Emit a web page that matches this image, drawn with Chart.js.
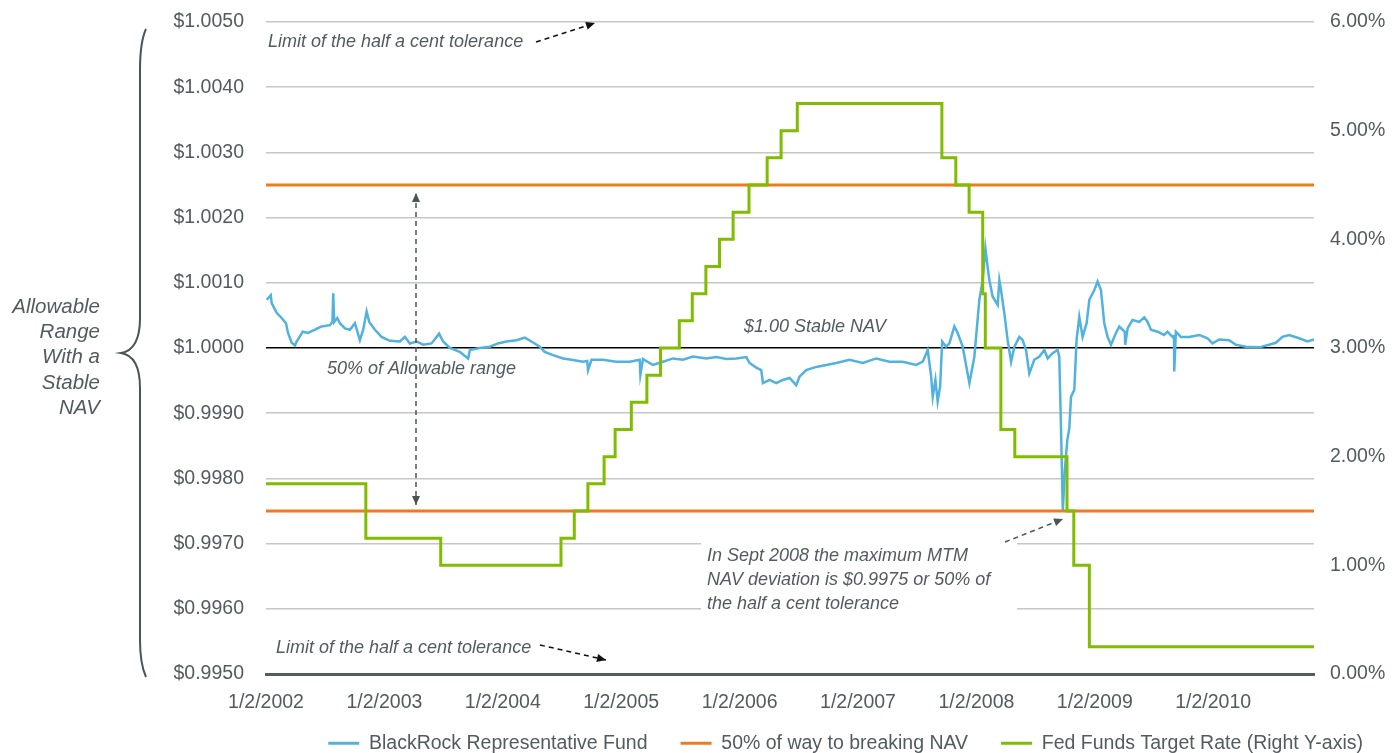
<!DOCTYPE html>
<html>
<head>
<meta charset="utf-8">
<title>Stable NAV</title>
<script src="https://cdn.jsdelivr.net/npm/chart.js@4.4.1/dist/chart.umd.min.js"></script>
<style>
  html, body { margin: 0; padding: 0; background: #fff; overflow: hidden; }
  #wrap { position: absolute; left: 0; top: 0; width: 1396px; height: 782px; }
</style>
</head>
<body>
<div id="wrap"><canvas id="navChart"></canvas></div>
<script>
// x axis: years, labelled as 1/2/YYYY
var tickYears = [2002, 2003, 2004, 2005, 2006, 2007, 2008, 2009, 2010];

// BlackRock representative fund NAV (decimal year, $)
var fundYear = [
  2002.006, 2002.040, 2002.048, 2002.090, 2002.132, 2002.169, 2002.186, 2002.217, 2002.245, 2002.259,
  2002.310, 2002.354, 2002.414, 2002.470, 2002.540, 2002.561, 2002.568, 2002.576, 2002.602, 2002.624,
  2002.667, 2002.709, 2002.751, 2002.793, 2002.821, 2002.850, 2002.872, 2002.920, 2002.976, 2003.046,
  2003.131, 2003.173, 2003.215, 2003.272, 2003.327, 2003.398, 2003.462, 2003.496, 2003.553, 2003.637,
  2003.707, 2003.722, 2003.806, 2003.890, 2003.960, 2004.031, 2004.116, 2004.186, 2004.242, 2004.312,
  2004.354, 2004.424, 2004.509, 2004.580, 2004.678, 2004.713, 2004.720, 2004.749, 2004.846, 2004.959,
  2005.072, 2005.156, 2005.162, 2005.184, 2005.268, 2005.353, 2005.437, 2005.522, 2005.606, 2005.719,
  2005.803, 2005.888, 2005.972, 2006.057, 2006.084, 2006.141, 2006.183, 2006.197, 2006.253, 2006.310,
  2006.365, 2006.422, 2006.478, 2006.506, 2006.563, 2006.647, 2006.732, 2006.816, 2006.928, 2007.041,
  2007.154, 2007.266, 2007.378, 2007.491, 2007.547, 2007.589, 2007.618, 2007.631, 2007.654, 2007.673,
  2007.694, 2007.711, 2007.744, 2007.772, 2007.814, 2007.842, 2007.884, 2007.941, 2007.983, 2008.025,
  2008.053, 2008.076, 2008.093, 2008.110, 2008.137, 2008.180, 2008.194, 2008.208, 2008.236, 2008.264,
  2008.293, 2008.321, 2008.363, 2008.391, 2008.419, 2008.447, 2008.489, 2008.532, 2008.574, 2008.602,
  2008.644, 2008.686, 2008.700, 2008.715, 2008.730, 2008.747, 2008.768, 2008.785, 2008.799, 2008.827,
  2008.846, 2008.869, 2008.897, 2008.931, 2008.954, 2008.996, 2009.024, 2009.052, 2009.080, 2009.108,
  2009.137, 2009.179, 2009.207, 2009.235, 2009.253, 2009.257, 2009.277, 2009.319, 2009.376, 2009.418,
  2009.446, 2009.474, 2009.530, 2009.586, 2009.614, 2009.657, 2009.669, 2009.671, 2009.685, 2009.727,
  2009.797, 2009.882, 2009.952, 2009.994, 2010.051, 2010.135, 2010.192, 2010.276, 2010.388, 2010.473,
  2010.529, 2010.585, 2010.641, 2010.726, 2010.796, 2010.852
];
var fundNav = [
  1.00074, 1.00081, 1.00069, 1.00054, 1.00046, 1.00038, 1.00023, 1.00008, 1.00004, 1.00010,
  1.00025, 1.00023, 1.00028, 1.00033, 1.00035, 1.00040, 1.00084, 1.00040, 1.00046, 1.00038,
  1.00030, 1.00028, 1.00038, 1.00012, 1.00028, 1.00056, 1.00040, 1.00028, 1.00017, 1.00011,
  1.00010, 1.00017, 1.00007, 1.00010, 1.00005, 1.00007, 1.00022, 1.00010, 1.00000, 0.99994,
  0.99984, 0.99997, 1.00000, 1.00002, 1.00007, 1.00010, 1.00012, 1.00016, 1.00010, 1.00002,
  0.99994, 0.99989, 0.99984, 0.99982, 0.99979, 0.99980, 0.99966, 0.99982, 0.99982, 0.99979,
  0.99979, 0.99982, 0.99959, 0.99983, 0.99974, 0.99979, 0.99984, 0.99982, 0.99987, 0.99984,
  0.99986, 0.99983, 0.99984, 0.99986, 0.99977, 0.99970, 0.99966, 0.99946, 0.99951, 0.99946,
  0.99951, 0.99954, 0.99943, 0.99956, 0.99966, 0.99971, 0.99974, 0.99977, 0.99982, 0.99977,
  0.99984, 0.99979, 0.99979, 0.99974, 0.99979, 0.99997, 0.99956, 0.99925, 0.99951, 0.99918,
  0.99941, 1.00010, 1.00002, 1.00007, 1.00033, 1.00023, 1.00002, 0.99946, 0.99987, 1.00074,
  1.00104, 1.00153, 1.00127, 1.00104, 1.00079, 1.00066, 1.00104, 1.00089, 1.00053, 1.00012,
  0.99979, 1.00002, 1.00017, 1.00012, 0.99997, 0.99961, 0.99982, 0.99987, 0.99997, 0.99984,
  0.99992, 0.99997, 0.99987, 0.99874, 0.99750, 0.99813, 0.99859, 0.99877, 0.99925, 0.99936,
  1.00012, 1.00048, 1.00017, 1.00038, 1.00074, 1.00089, 1.00102, 1.00089, 1.00038, 1.00017,
  1.00005, 1.00023, 1.00033, 1.00028, 1.00025, 1.00005, 1.00030, 1.00043, 1.00040, 1.00047,
  1.00040, 1.00028, 1.00025, 1.00020, 1.00025, 1.00017, 1.00018, 0.99964, 1.00025, 1.00017,
  1.00017, 1.00020, 1.00015, 1.00007, 1.00013, 1.00012, 1.00005, 1.00002, 1.00001, 1.00005,
  1.00008, 1.00017, 1.00020, 1.00015, 1.00010, 1.00013
];

// 50% of way to breaking NAV
var breakLevels = [1.0025, 0.9975];

// Fed funds target rate (%), value in force from each date
var fedDates = [
  '2002-01-02', '2002-11-06', '2003-06-25', '2004-06-30', '2004-08-10', '2004-09-21',
  '2004-11-10', '2004-12-14', '2005-02-02', '2005-03-22', '2005-05-03', '2005-06-30',
  '2005-08-09', '2005-09-20', '2005-11-01', '2005-12-13', '2006-01-31', '2006-03-28',
  '2006-05-10', '2006-06-29', '2007-09-18', '2007-10-31', '2007-12-11', '2008-01-22',
  '2008-01-30', '2008-03-18', '2008-04-30', '2008-10-08', '2008-10-29', '2008-12-16',
  '2010-11-09'
];
var fedRate = [
  1.75, 1.25, 1.00, 1.25, 1.50, 1.75,
  2.00, 2.25, 2.50, 2.75, 3.00, 3.25,
  3.50, 3.75, 4.00, 4.25, 4.50, 4.75,
  5.00, 5.25, 4.75, 4.50, 4.25, 3.50,
  3.00, 2.25, 2.00, 1.50, 1.00, 0.25,
  0.25
];

var seriesNames = ['BlackRock Representative Fund', '50% of way to breaking NAV', 'Fed Funds Target Rate (Right Y-axis)'];

var baseDay = Date.UTC(2002, 0, 2);
function toYear(s) {
  var p = s.split('-').map(Number);
  return 2002 + (Date.UTC(p[0], p[1] - 1, p[2]) - baseDay) / (365.25 * 864e5);
}

var xMin = 2002;
var xMax = toYear(fedDates[fedDates.length - 1]);

var textGrey = '#525b5f';
var fontFamily = '"Liberation Sans", Arial, sans-serif';
Chart.defaults.font.family = fontFamily;
Chart.defaults.font.size = 19.5;
Chart.defaults.color = textGrey;

function dashedArrow(ctx, x1, y1, x2, y2, color, bothEnds) {
  ctx.save();
  ctx.strokeStyle = color;
  ctx.fillStyle = color;
  ctx.lineWidth = 1.5;
  ctx.setLineDash([5, 4]);
  ctx.beginPath();
  ctx.moveTo(x1, y1);
  ctx.lineTo(x2, y2);
  ctx.stroke();
  ctx.setLineDash([]);
  var head = function (tx, ty, fx, fy) {
    var a = Math.atan2(ty - fy, tx - fx);
    ctx.beginPath();
    ctx.moveTo(tx, ty);
    ctx.lineTo(tx - 9 * Math.cos(a) + 4 * Math.sin(a), ty - 9 * Math.sin(a) - 4 * Math.cos(a));
    ctx.lineTo(tx - 9 * Math.cos(a) - 4 * Math.sin(a), ty - 9 * Math.sin(a) + 4 * Math.cos(a));
    ctx.closePath();
    ctx.fill();
  };
  head(x2, y2, x1, y1);
  if (bothEnds) head(x1, y1, x2, y2);
  ctx.restore();
}

var notes = {
  id: 'notes',
  afterLayout: function (chart) {
    // legend sits a little higher than its padding would put it
    chart.legend.top -= 19;
    chart.legend.bottom -= 19;
  },
  beforeDatasetsDraw: function (chart) {
    // white box behind the Sept 2008 note hides the gridlines
    var ctx = chart.ctx;
    ctx.save();
    ctx.fillStyle = '#fff';
    ctx.fillRect(701, 533, 316, 84);
    ctx.restore();
  },
  afterDraw: function (chart) {
    var ctx = chart.ctx;
    var y = chart.scales.y;
    ctx.save();
    ctx.fillStyle = textGrey;
    ctx.textBaseline = 'middle';
    ctx.textAlign = 'left';
    ctx.font = 'italic 18px ' + fontFamily;
    ctx.fillText('Limit of the half a cent tolerance', 268, 42);
    ctx.fillText('Limit of the half a cent tolerance', 276, 648);
    ctx.fillText('50% of Allowable range', 327, 369);
    ctx.fillText('$1.00 Stable NAV', 744, 327);
    ctx.fillText('In Sept 2008 the maximum MTM', 707, 556);
    ctx.fillText('NAV deviation is $0.9975 or 50% of', 707, 580);
    ctx.fillText('the half a cent tolerance', 707, 604);

    ctx.textAlign = 'right';
    ctx.font = 'italic 20.5px ' + fontFamily;
    ['Allowable', 'Range', 'With a', 'Stable', 'NAV'].forEach(function (t, i) {
      ctx.fillText(t, 100, 307 + i * 25.3);
    });

    // curly brace
    ctx.strokeStyle = '#4a5459';
    ctx.lineWidth = 2;
    ctx.beginPath();
    ctx.moveTo(146, 29);
    ctx.quadraticCurveTo(140, 42, 140, 70);
    ctx.lineTo(140, 318);
    ctx.quadraticCurveTo(140, 350, 121, 353);
    ctx.quadraticCurveTo(140, 356, 140, 388);
    ctx.lineTo(140, 640);
    ctx.quadraticCurveTo(140, 664, 146, 677);
    ctx.stroke();
    ctx.restore();

    dashedArrow(ctx, 536, 42, 595, 23, '#111', false);
    dashedArrow(ctx, 540, 645, 606, 660, '#111', false);
    dashedArrow(ctx, 416, y.getPixelForValue(breakLevels[1]) - 6, 416, y.getPixelForValue(breakLevels[0]) + 8, '#4a5459', true);
    dashedArrow(ctx, 1005, 542, 1063, 519, '#4a5459', false);
  }
};

function fixSide(width) {
  return function (axis) {
    axis.width = width;
    axis.paddingTop = 0;
    axis.paddingBottom = 0;
  };
}

var ctx = document.getElementById('navChart').getContext('2d');
var navChart = new Chart(ctx, {
  type: 'line',
  data: {
    datasets: [{
      label: seriesNames[0],
      data: fundYear.map(function (x, i) { return { x: x, y: fundNav[i] }; }),
      borderColor: '#52b2de',
      backgroundColor: '#52b2de',
      borderWidth: 2.5,
      pointRadius: 0,
      yAxisID: 'y',
      order: 2
    }, {
      label: seriesNames[1],
      data: [{ x: xMin, y: breakLevels[0] }, { x: xMax, y: breakLevels[0] }],
      borderColor: '#ee7b1e',
      backgroundColor: '#ee7b1e',
      borderWidth: 3,
      pointRadius: 0,
      yAxisID: 'y',
      order: 1
    }, {
      label: seriesNames[1],
      data: [{ x: xMin, y: breakLevels[1] }, { x: xMax, y: breakLevels[1] }],
      borderColor: '#ee7b1e',
      backgroundColor: '#ee7b1e',
      borderWidth: 3,
      pointRadius: 0,
      yAxisID: 'y',
      order: 1
    }, {
      label: seriesNames[2],
      data: fedDates.map(function (d, i) { return { x: toYear(d), y: fedRate[i] }; }),
      borderColor: '#80bc00',
      backgroundColor: '#80bc00',
      borderWidth: 3,
      pointRadius: 0,
      stepped: 'before',
      yAxisID: 'y2',
      order: 0
    }]
  },
  options: {
    responsive: true,
    maintainAspectRatio: false,
    animation: false,
    events: [],
    layout: { padding: { top: 22, left: 0, right: 0, bottom: 0 } },
    scales: {
      x: {
        type: 'linear',
        min: xMin,
        max: xMax,
        afterBuildTicks: function (axis) { axis.ticks = tickYears.map(function (v) { return { value: v }; }); },
        afterFit: function (axis) { axis.height = 45.5; },
        grid: { display: false, drawTicks: false },
        border: { display: true, color: '#545c60', width: 3 },
        ticks: {
          autoSkip: false,
          maxRotation: 0,
          padding: 17,
          callback: function (v) { return '1/2/' + Math.round(v); }
        }
      },
      y: {
        position: 'left',
        min: 0.995,
        max: 1.005,
        afterFit: fixSide(266),
        border: { display: false },
        grid: {
          drawTicks: false,
          lineWidth: 1.5,
          color: function (c) {
            if (Math.abs(c.tick.value - 1) < 1e-9) return '#000';
            if (Math.abs(c.tick.value - 0.995) < 1e-9) return '#545c60';
            return '#c6c6c6';
          }
        },
        ticks: {
          stepSize: 0.001,
          padding: 22,
          callback: function (v) { return '$' + v.toFixed(4); }
        }
      },
      y2: {
        position: 'right',
        min: 0,
        max: 6,
        afterFit: fixSide(82),
        border: { display: false },
        grid: { display: false, drawTicks: false },
        ticks: {
          stepSize: 1,
          padding: 16,
          callback: function (v) { return v.toFixed(2) + '%'; }
        }
      }
    },
    plugins: {
      tooltip: { enabled: false },
      legend: {
        position: 'bottom',
        align: 'end',
        labels: {
          boxWidth: 31,
          boxHeight: 3,
          padding: 33,
          color: textGrey,
          font: { size: 19.5 },
          generateLabels: function (chart) {
            return Chart.defaults.plugins.legend.labels.generateLabels(chart).map(function (l) {
              l.lineWidth = 0;
              return l;
            });
          },
          filter: function (item) { return item.datasetIndex !== 2; },
          sort: function (a, b) { return a.datasetIndex - b.datasetIndex; }
        }
      }
    }
  },
  plugins: [notes]
});
</script>
</body>
</html>
